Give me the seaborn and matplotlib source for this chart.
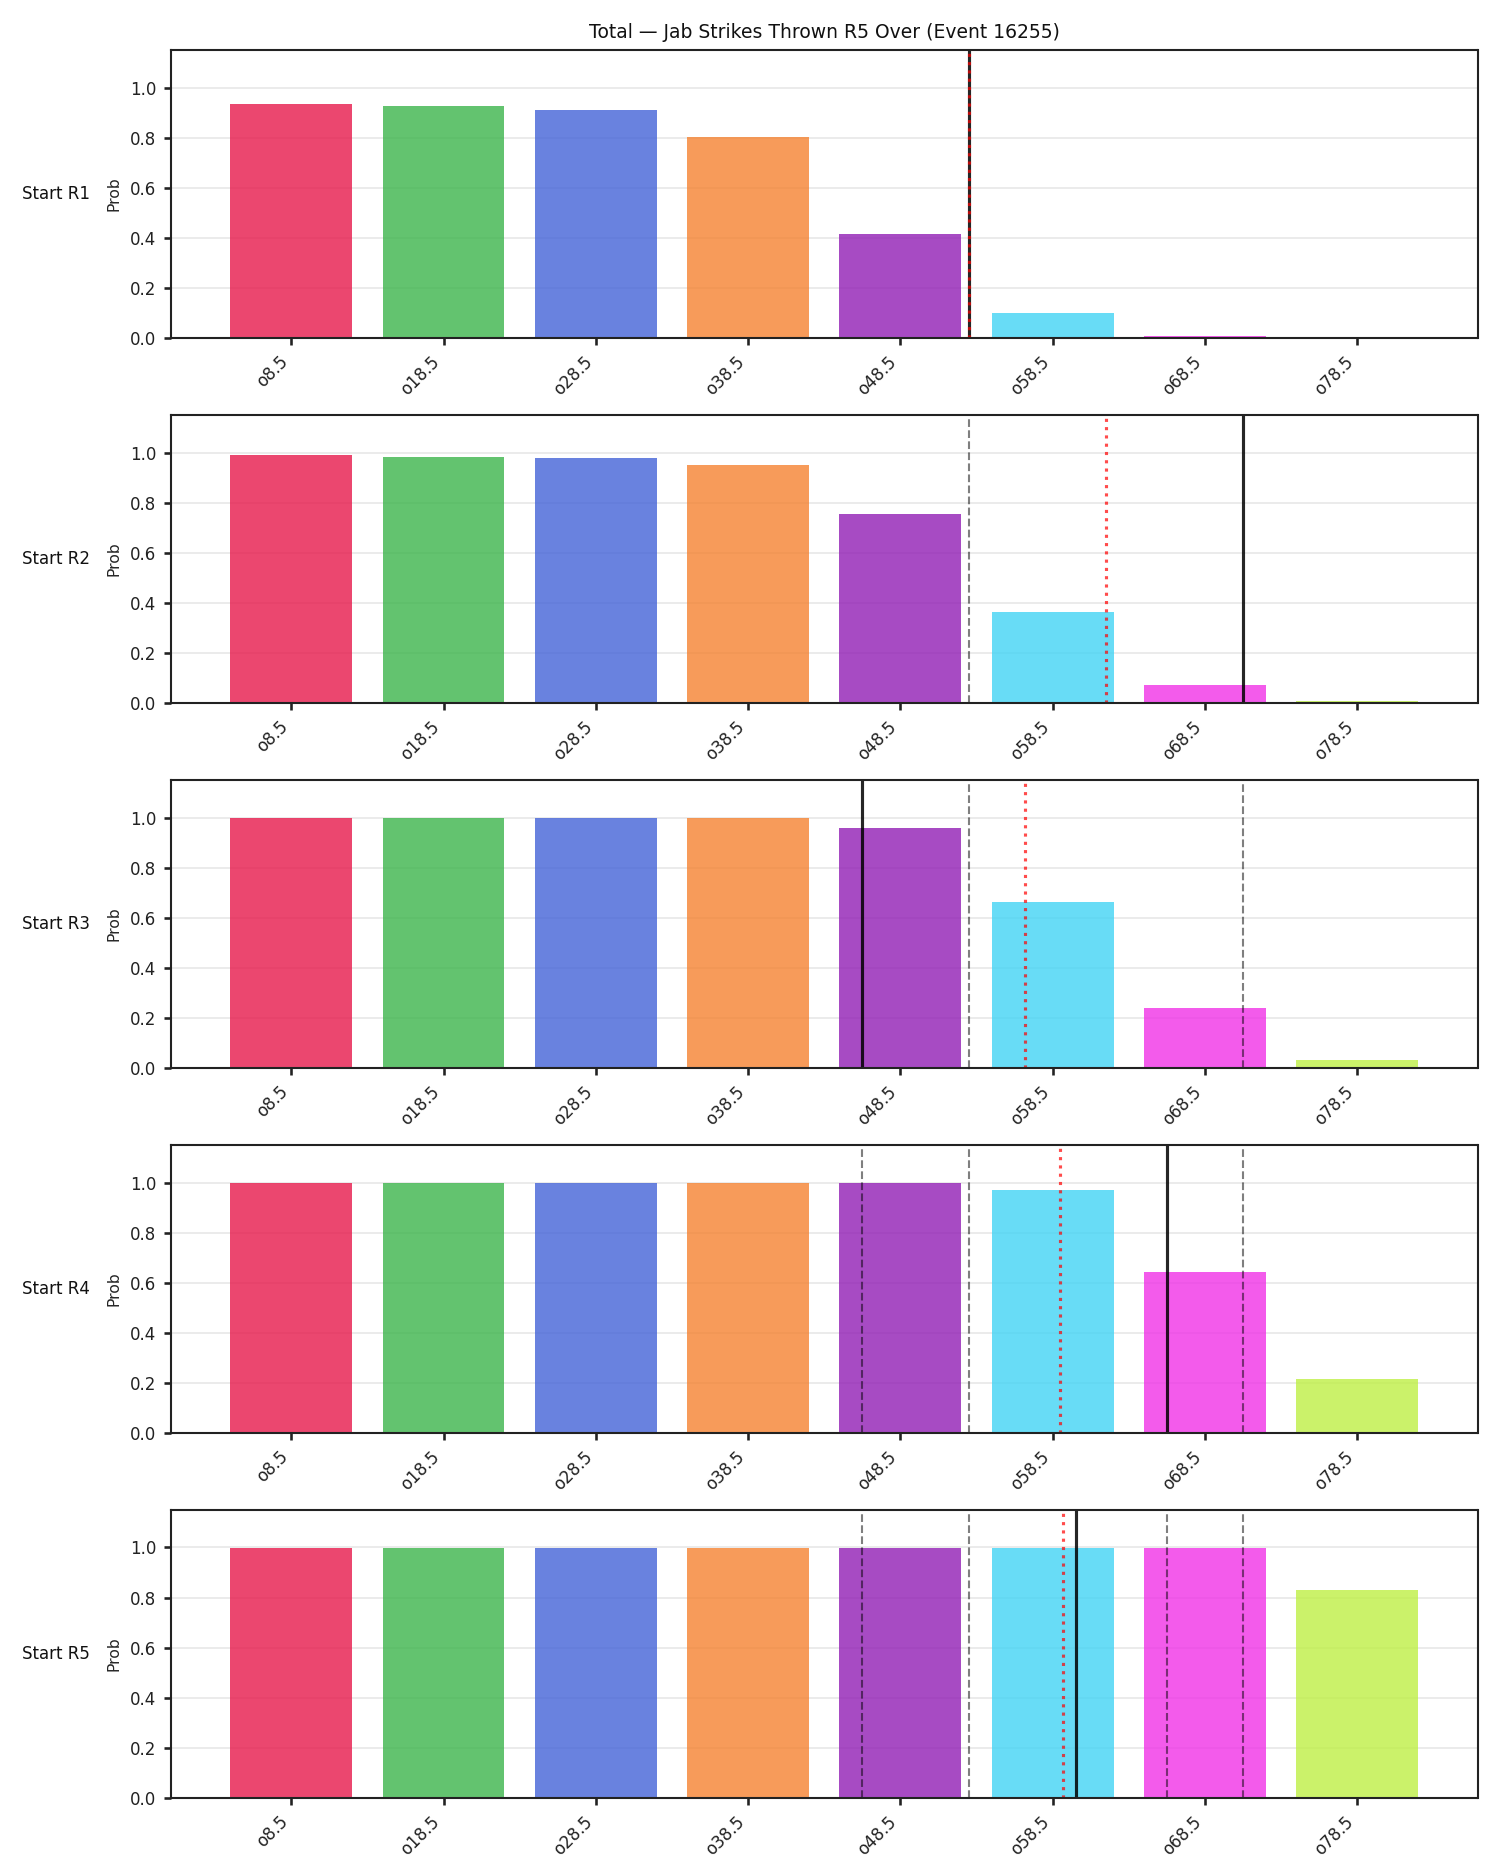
"""Per-round over probabilities for a total-strikes line, one panel per start round."""
import matplotlib
import matplotlib.pyplot as plt
import pandas as pd
import seaborn as sns

matplotlib.use("Agg")

# --- data -------------------------------------------------------------------
lines = ["o8.5", "o18.5", "o28.5", "o38.5", "o48.5", "o58.5", "o68.5", "o78.5"]
line_values = [8.5, 18.5, 28.5, 38.5, 48.5, 58.5, 68.5, 78.5]
rounds = ["Start R1", "Start R2", "Start R3", "Start R4", "Start R5"]

prob_r1 = [0.933, 0.925, 0.910, 0.801, 0.416, 0.099, 0.007, 0.005]
prob_r2 = [0.989, 0.981, 0.977, 0.949, 0.753, 0.364, 0.071, 0.007]
prob_r3 = [0.998, 0.998, 0.998, 0.997, 0.957, 0.664, 0.241, 0.031]
prob_r4 = [0.998, 0.998, 0.998, 0.998, 0.998, 0.969, 0.644, 0.215]
prob_r5 = [0.998, 0.998, 0.998, 0.998, 0.998, 0.998, 0.998, 0.829]
probs = [prob_r1, prob_r2, prob_r3, prob_r4, prob_r5]

# strikes value shown by the solid line in each panel
actual = [53, 71, 46, 66, 60]
# running average (red dotted)
running_avg = [53, 62, 56.67, 59, 59.2]

palette = ["#e6194b", "#3cb44b", "#4363d8", "#f58231",
           "#911eb4", "#42d4f4", "#f032e6", "#bfef45"]

title = "Total \u2014 Jab Strikes Thrown R5 Over (Event 16255)"


def to_pos(v):
    """Map a strike count onto the categorical bar axis."""
    step = line_values[1] - line_values[0]
    return (v - line_values[0]) / step


# --- style ------------------------------------------------------------------
sns.set_theme(style="ticks")
plt.rcParams.update({
    "font.family": ["DejaVu Sans"],
    "font.size": 8,
    "axes.titlesize": 9,
    "axes.labelsize": 7.5,
    "xtick.labelsize": 8,
    "ytick.labelsize": 8,
    "axes.linewidth": 1.0,
    "axes.edgecolor": "#222222",
    "xtick.color": "#222222",
    "ytick.color": "#222222",
    "text.color": "#111111",
    "xtick.major.size": 3.5,
    "ytick.major.size": 3.5,
})

fig, axes = plt.subplots(5, 1, figsize=(10, 12.5), dpi=150)
fig.subplots_adjust(left=0.114, right=0.985, top=0.9733, bottom=0.0411,
                    hspace=0.267)

for i, ax in enumerate(axes):
    df = pd.DataFrame({"line": lines, "prob": probs[i]})
    sns.barplot(data=df, x="line", y="prob", hue="line", palette=palette,
                saturation=1, alpha=0.8, width=0.8, legend=False, ax=ax,
                linewidth=0)
    ax.set_axisbelow(True)
    ax.grid(axis="y", color="#b0b0b0", alpha=0.3, linewidth=0.8)

    # previous rounds (dashed)
    for v in actual[:i]:
        ax.axvline(to_pos(v), color="black", alpha=0.5, linestyle="--",
                   linewidth=1.0)
    ax.axvline(to_pos(actual[i]), color="black", alpha=0.85,
               linewidth=1.5)
    ax.axvline(to_pos(running_avg[i]), color="red", alpha=0.7,
               linestyle=":", linewidth=1.5)

    ax.set_xlim(-0.79, len(lines) - 0.21)
    ax.set_ylim(0, 1.15)
    ax.set_xlabel("")
    ax.set_ylabel("Prob")
    ax.tick_params(axis="x", labelrotation=45)
    for lbl in ax.get_xticklabels():
        lbl.set_ha("right")
    for side in ["top", "right"]:
        ax.spines[side].set_visible(True)

    box = ax.get_position()
    fig.text(0.015, (box.y0 + box.y1) / 2, rounds[i], ha="left",
             va="center", fontsize=8)

axes[0].set_title(title)

fig.savefig("out.png", dpi=150)
